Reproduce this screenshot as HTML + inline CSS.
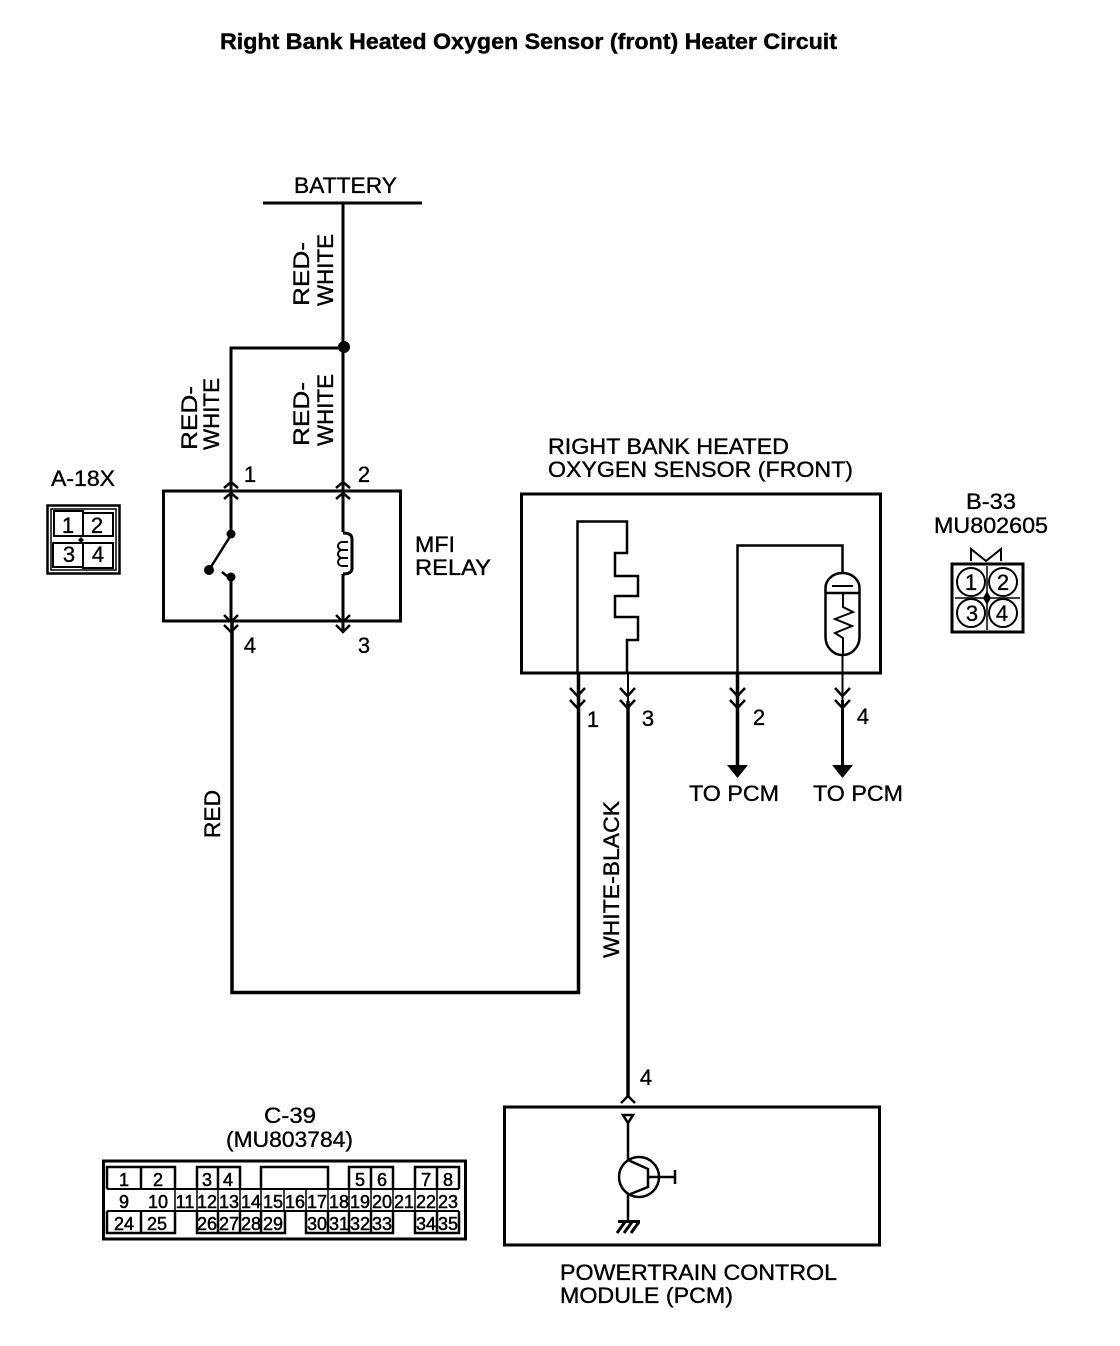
<!DOCTYPE html>
<html><head><meta charset="utf-8"><title>Heater Circuit</title>
<style>html,body{margin:0;padding:0;background:#fff}svg{display:block}
text{font-family:"Liberation Sans",sans-serif;fill:#000;stroke:#000;stroke-width:.35px;font-size:22px}
.n{font-size:22px;text-anchor:middle}.c{font-size:18px;text-anchor:middle;stroke-width:.5px}.b{font-size:22px;text-anchor:middle}
</style></head><body>
<svg width="1120" height="1346" viewBox="0 0 1120 1346" xmlns="http://www.w3.org/2000/svg">
<rect width="1120" height="1346" fill="#fff"/>
<text x="220" y="49" font-weight="bold" style="font-size:22px;stroke-width:.4px" textLength="617" lengthAdjust="spacingAndGlyphs">Right Bank Heated Oxygen Sensor (front) Heater Circuit</text>
<text x="294" y="193" textLength="103" lengthAdjust="spacingAndGlyphs">BATTERY</text>
<g fill="none" stroke="#000" stroke-width="3">
<path d="M263 203H422"/>
<path d="M343 203V491M231 491V348H343"/>
<rect x="163.500" y="491" width="237" height="130"/>
<path d="M231 491V534M343 491V532"/>
<path d="M231 577V621M343 574V632" />
<path d="M232 621V992.500H578.500V673" stroke-width="3.500"/>
<path d="M343 533q9 0 9 6v29q0 6-9 6"/>
<path d="M231 535L209 570" stroke-width="2.500"/>
<path d="M222 572L227 576" stroke-width="2.500"/>
<path d="M224 488l7-6 7 6M224 499l7-6 7 6M336 488l7-6 7 6M336 499l7-6 7 6" stroke-width="2.500"/>
<path d="M224 615l7 7 7-7M224 625l7 7 7-7M336 615l7 7 7-7M336 625l7 7 7-7" stroke-width="2.500"/>
<path d="M348 542h-6a3 3 0 0 0 0 8h6M348 550h-6a3 3 0 0 0 0 8h6M348 558h-6a3 3 0 0 0 0 8h6" stroke-width="2"/>
<rect x="521.500" y="494" width="359" height="179"/>
<path d="M577.500 673V521.500H627V553H615V576H638V596H615V617H638V640H627V673" stroke-width="2.500"/>
<path d="M628 673V701" stroke-width="2"/><path d="M628 701V1097" stroke-width="3.500"/>
<path d="M737.500 673V545.500H842.500V573" stroke-width="2.500"/>
<path d="M737.500 673V765" stroke-width="3.500"/>
<path d="M842.500 655V700" stroke-width="2"/><path d="M842.500 700V765" stroke-width="3"/>
<path d="M570 688l7.500 8 7.500-8M570 700l7.500 8 7.500-8M620 688l7.500 8 7.500-8M620 700l7.500 8 7.500-8M730 688l7.500 8 7.500-8M730 700l7.500 8 7.500-8M835 688l7.500 8 7.500-8M835 700l7.500 8 7.500-8" stroke-width="2.500"/>
<path d="M825.500 588a17 15 0 0 1 34 0v49a17 18 0 0 1-34 0z" stroke-width="2.500"/>
<path d="M825 593H860" stroke-width="2.500"/><path d="M832 586H853" stroke-width="2"/>
<path d="M843 593V607L853 612L835 619L852 626L835 633L843 638V655" stroke-width="2"/>
<rect x="504.500" y="1107" width="375" height="138"/>
<path d="M621 1103L628 1096L635 1103" stroke-width="2.500"/>
<path d="M623 1115H633L628 1123ZM628 1123V1160" stroke-width="2.500"/>
<circle cx="639" cy="1177" r="20" stroke-width="2.500"/>
<path d="M628 1160L648 1169V1187L628 1195V1222M648 1177H675M675 1170V1184" stroke-width="2.500"/>
<path d="M618 1221.500H640M625 1222L617 1233M632 1222L624 1233M639 1222L631 1233" stroke-width="3"/>
<rect x="47.500" y="505.500" width="72" height="68" stroke-width="2.500"/>
<rect x="51" y="509" width="65" height="61" stroke-width="1.500"/>
<path d="M54 511H83V536H54ZM83 513H113V536H83ZM53 543H83V567H53ZM83 543H113V568H83Z" stroke-width="2"/>
<rect x="952" y="564" width="71" height="68" stroke-width="3"/>
<path d="M971 561V549L986 561L1001 549V561" stroke-width="2"/>
<path d="M987 566V630M955 598H1020" stroke-width="1.500"/>
<circle cx="971" cy="582" r="14" stroke-width="2"/><circle cx="1003" cy="582" r="14" stroke-width="2"/>
<circle cx="971" cy="613" r="14" stroke-width="2"/><circle cx="1003" cy="613" r="14" stroke-width="2"/>
<rect x="103.500" y="1161" width="362" height="78" stroke-width="3"/>
<path d="M107 1189V1167H175V1189M141 1167V1189M197 1189V1167H240V1189M218 1167V1189M261 1189V1167H328V1189M349 1189V1167H393V1189M371 1167V1189M415 1189V1167H459V1189M437 1167V1189" stroke-width="2.500"/>
<path d="M107 1189H459M107 1211H459" stroke-width="2"/>
<path d="M107 1211V1233H175V1211M141 1211V1233M197 1211V1233H285V1211M218 1211V1233M240 1211V1233M261 1211V1233M306 1211V1233H393V1211M328 1211V1233M349 1211V1233M371 1211V1233M415 1211V1233H459V1211M437 1211V1233" stroke-width="2.500"/>
<path d="M175 1189V1211M197 1189V1211M218 1189V1211M240 1189V1211M261 1189V1211M284 1189V1211M306 1189V1211M328 1189V1211M349 1189V1211M371 1189V1211M393 1189V1211M415 1189V1211M437 1189V1211" stroke-width="1.500"/>
</g>
<circle cx="344" cy="347" r="6" fill="#000"/>
<circle cx="231" cy="534" r="4.500" fill="#000"/><circle cx="231" cy="577" r="4.500" fill="#000"/><circle cx="209" cy="570" r="5" fill="#000"/>
<path d="M727 765H748L737.500 778ZM832 765H853L842.500 778Z" fill="#000"/>
<path d="M81 537l3 3-3 3-3-3z" fill="#000"/>
<path d="M987 591l4 7-4 7-4-7z" fill="#000"/>
<g transform="translate(309,306) rotate(-90)"><text textLength="64" lengthAdjust="spacingAndGlyphs" x="0" y="0">RED-</text></g>
<g transform="translate(333,306) rotate(-90)"><text textLength="72" lengthAdjust="spacingAndGlyphs" x="0" y="0">WHITE</text></g>
<g transform="translate(309,446) rotate(-90)"><text textLength="64" lengthAdjust="spacingAndGlyphs" x="0" y="0">RED-</text></g>
<g transform="translate(333,446) rotate(-90)"><text textLength="72" lengthAdjust="spacingAndGlyphs" x="0" y="0">WHITE</text></g>
<g transform="translate(197,450) rotate(-90)"><text textLength="64" lengthAdjust="spacingAndGlyphs" x="0" y="0">RED-</text></g>
<g transform="translate(219,450) rotate(-90)"><text textLength="72" lengthAdjust="spacingAndGlyphs" x="0" y="0">WHITE</text></g>
<g transform="translate(220,838) rotate(-90)"><text textLength="48" lengthAdjust="spacingAndGlyphs" x="0" y="0">RED</text></g>
<g transform="translate(619,958) rotate(-90)"><text textLength="157" lengthAdjust="spacingAndGlyphs" x="0" y="0">WHITE-BLACK</text></g>
<text class="n" x="250" y="482">1</text><text class="n" x="364" y="482">2</text>
<text class="n" x="250" y="653">4</text><text class="n" x="364" y="653">3</text>
<text x="415" y="552" textLength="40" lengthAdjust="spacingAndGlyphs">MFI</text>
<text x="415" y="575" textLength="76" lengthAdjust="spacingAndGlyphs">RELAY</text>
<text x="548" y="454" textLength="241" lengthAdjust="spacingAndGlyphs">RIGHT BANK HEATED</text>
<text x="548" y="477" textLength="305" lengthAdjust="spacingAndGlyphs">OXYGEN SENSOR (FRONT)</text>
<text class="n" x="593" y="727">1</text><text class="n" x="648" y="726">3</text>
<text class="n" x="759" y="725">2</text><text class="n" x="863" y="724">4</text>
<text x="689" y="801" textLength="90" lengthAdjust="spacingAndGlyphs">TO PCM</text>
<text x="813" y="801" textLength="90" lengthAdjust="spacingAndGlyphs">TO PCM</text>
<text x="51" y="486" textLength="64" lengthAdjust="spacingAndGlyphs">A-18X</text>
<text class="b" x="68" y="533">1</text><text class="b" x="97" y="533">2</text><text class="b" x="69" y="562">3</text><text class="b" x="98" y="562">4</text>
<text x="966" y="509" textLength="50" lengthAdjust="spacingAndGlyphs">B-33</text>
<text x="934" y="533" textLength="114" lengthAdjust="spacingAndGlyphs">MU802605</text>
<text class="b" x="971" y="590">1</text><text class="b" x="1003" y="590">2</text><text class="b" x="972" y="621">3</text><text class="b" x="1002" y="621">4</text>
<text x="264" y="1123" textLength="52" lengthAdjust="spacingAndGlyphs">C-39</text>
<text x="226" y="1147" textLength="127" lengthAdjust="spacingAndGlyphs">(MU803784)</text>
<text class="n" x="646" y="1085">4</text>
<text x="560" y="1280" textLength="277" lengthAdjust="spacingAndGlyphs">POWERTRAIN CONTROL</text>
<text x="560" y="1303" textLength="173" lengthAdjust="spacingAndGlyphs">MODULE (PCM)</text>
<g class="cs">
<text class="c" x="124" y="1186">1</text><text class="c" x="158" y="1186">2</text><text class="c" x="207" y="1186">3</text><text class="c" x="228" y="1186">4</text><text class="c" x="360" y="1186">5</text><text class="c" x="382" y="1186">6</text><text class="c" x="426" y="1186">7</text><text class="c" x="448" y="1186">8</text>
<text class="c" x="124" y="1208">9</text><text class="c" x="158" y="1208">10</text><text class="c" x="185" y="1208">11</text><text class="c" x="207" y="1208">12</text><text class="c" x="229" y="1208">13</text><text class="c" x="251" y="1208">14</text><text class="c" x="273" y="1208">15</text><text class="c" x="295" y="1208">16</text><text class="c" x="317" y="1208">17</text><text class="c" x="339" y="1208">18</text><text class="c" x="360" y="1208">19</text><text class="c" x="382" y="1208">20</text><text class="c" x="404" y="1208">21</text><text class="c" x="426" y="1208">22</text><text class="c" x="448" y="1208">23</text>
<text class="c" x="124" y="1230">24</text><text class="c" x="157" y="1230">25</text><text class="c" x="207" y="1230">26</text><text class="c" x="229" y="1230">27</text><text class="c" x="251" y="1230">28</text><text class="c" x="273" y="1230">29</text><text class="c" x="317" y="1230">30</text><text class="c" x="339" y="1230">31</text><text class="c" x="360" y="1230">32</text><text class="c" x="382" y="1230">33</text><text class="c" x="426" y="1230">34</text><text class="c" x="448" y="1230">35</text>
</g>
</svg>
</body></html>
